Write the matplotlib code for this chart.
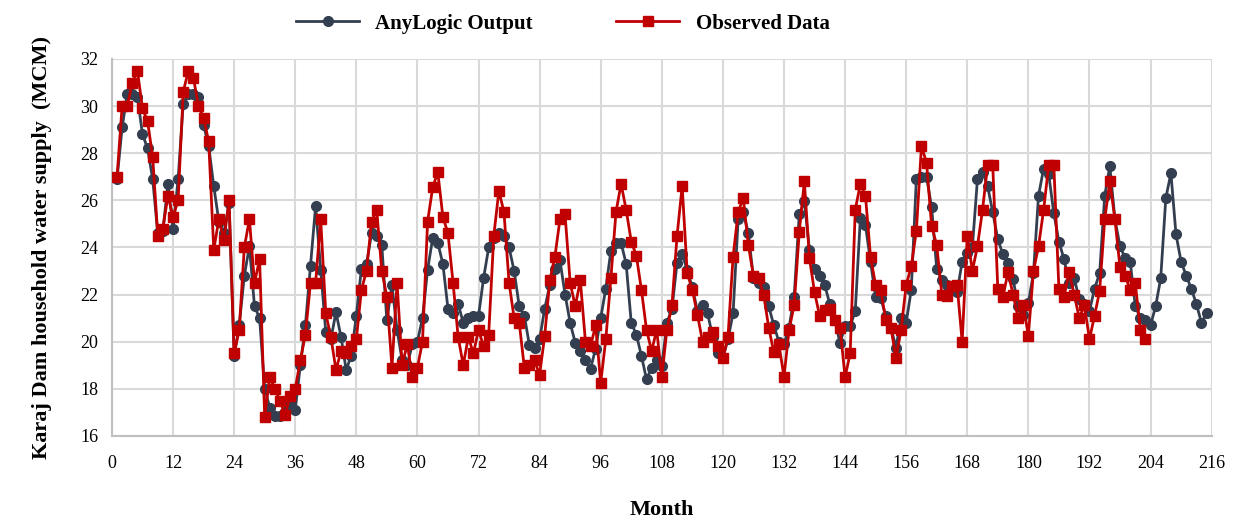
import numpy as np
import matplotlib
matplotlib.use("Agg")
import matplotlib.pyplot as plt

# ==========================================
# DATA (monthly household supply, MCM)
# ==========================================
anylogic = [
    26.9, 29.1, 30.5, 30.5, 30.4, 28.8, 28.2, 26.9, 24.6, 24.7, 26.7, 24.8,
    26.9, 30.1, 30.5, 30.5, 30.4, 29.2, 28.3, 26.6, 25.1, 24.6, 25.9, 19.4,
    20.7, 22.8, 24.05, 21.5, 21.0, 18.0, 17.2, 16.85, 16.85, 17.0, 17.4, 17.1,
    19.0, 20.7, 23.2, 25.75, 23.05, 20.4, 20.1, 21.25, 20.2, 18.8, 19.4, 21.1,
    23.1, 23.3, 24.6, 24.5, 24.1, 20.9, 22.4, 20.5, 19.2, 19.0, 19.9, 20.0,
    21.0, 23.05, 24.4, 24.2, 23.3, 21.4, 21.2, 21.6, 20.8, 21.0, 21.1, 21.1,
    22.7, 24.0, 24.4, 24.6, 24.5, 24.0, 23.0, 21.5, 21.1, 19.85, 19.75, 20.1,
    21.4, 22.4, 23.1, 23.45, 22.0, 20.8, 19.95, 19.6, 19.2, 18.85, 19.7, 21.0,
    22.25, 23.85, 24.2, 24.2, 23.3, 20.8, 20.3, 19.4, 18.4, 18.9, 19.2, 18.95,
    20.8, 21.4, 23.35, 23.7, 23.05, 22.3, 21.3, 21.55, 21.2, 20.2, 19.5, 19.3,
    20.1, 21.2, 25.2, 25.5, 24.6, 22.7, 22.5, 22.3, 21.5, 20.7, 20.0, 19.9,
    20.6, 21.9, 25.4, 25.95, 23.9, 23.1, 22.8, 22.4, 21.6, 20.9, 19.95, 20.65,
    20.65, 21.3, 25.25, 24.95, 23.4, 21.9, 21.85, 21.1, 20.6, 19.75, 21.0, 20.8,
    22.2, 26.9, 27.0, 27.0, 25.7, 23.1, 22.6, 22.4, 22.2, 22.1, 23.4, 23.75,
    24.0, 26.9, 27.2, 26.6, 25.5, 24.35, 23.7, 23.35, 22.65, 21.5, 21.15, 21.65,
    22.9, 26.2, 27.35, 27.1, 25.45, 24.25, 23.5, 22.5, 22.7, 21.8, 21.6, 21.3,
    22.25, 22.9, 26.2, 27.45, 25.2, 24.05, 23.55, 23.4, 21.5, 21.0, 20.9, 20.7,
    21.5, 22.7, 26.1, 27.15, 24.55, 23.4, 22.8, 22.25, 21.6, 20.8, 21.2,
]

observed = [
    27.0, 30.0, 30.0, 31.0, 31.5, 29.9, 29.35, 27.85, 24.5, 24.8, 26.2, 25.3,
    26.0, 30.6, 31.5, 31.2, 30.0, 29.5, 28.5, 23.9, 25.2, 24.3, 26.0, 19.5,
    20.5, 24.0, 25.2, 22.5, 23.5, 16.8, 18.5, 18.0, 17.5, 16.9, 17.7, 18.0,
    19.2, 20.3, 22.5, 22.5, 25.2, 21.2, 20.2, 18.8, 19.6, 19.5, 19.8, 20.1,
    22.2, 23.0, 25.1, 25.6, 23.0, 21.9, 18.9, 22.5, 19.0, 19.9, 18.5, 18.9,
    20.0, 25.1, 26.55, 27.2, 25.3, 24.6, 22.5, 20.2, 19.0, 20.2, 19.5, 20.5,
    19.8, 20.3, 24.5, 26.4, 25.5, 22.5, 21.0, 20.8, 18.9, 19.0, 19.2, 18.6,
    20.25, 22.6, 23.6, 25.2, 25.4, 22.5, 21.5, 22.6, 20.0, 19.8, 20.7, 18.25,
    20.1, 22.7, 25.5, 26.7, 25.6, 24.25, 23.65, 22.2, 20.5, 19.6, 20.5, 18.5,
    20.5, 21.55, 24.5, 26.6, 22.9, 22.2, 21.15, 20.0, 20.2, 20.4, 19.8, 19.3,
    20.2, 23.6, 25.5, 26.1, 24.1, 22.8, 22.7, 22.0, 20.6, 19.55, 19.9, 18.5,
    20.5, 21.55, 24.65, 26.8, 23.55, 22.1, 21.1, 21.35, 21.4, 20.9, 20.6, 18.5,
    19.5, 25.6, 26.7, 26.2, 23.6, 22.4, 22.2, 20.9, 20.6, 19.3, 20.5, 22.4,
    23.2, 24.7, 28.3, 27.6, 24.9, 24.1, 22.0, 21.95, 22.35, 22.4, 20.0, 24.5,
    23.0, 24.05, 25.6, 27.5, 27.5, 22.25, 21.9, 22.95, 22.0, 21.0, 21.55, 20.25,
    23.0, 24.05, 25.6, 27.5, 27.5, 22.25, 21.9, 22.95, 22.0, 21.0, 21.55, 20.1,
    21.1, 22.15, 25.2, 26.8, 25.2, 23.15, 22.8, 22.2, 22.5, 20.5, 20.1,
]

months_model = np.arange(1, len(anylogic) + 1)
months_obs = np.arange(1, len(observed) + 1)
x_ticks = list(range(0, 217, 12))
y_ticks = list(range(16, 33, 2))

SERIF = ["Liberation Serif", "DejaVu Serif"]
DARK = "#333f50"
RED = "#c00000"


def main():
    plt.rcParams["font.family"] = SERIF
    fig = plt.figure(figsize=(12.37, 5.22), dpi=100)
    ax = fig.add_axes([0.0905, 0.165, 0.889, 0.722])

    ax.plot(months_model, anylogic, color=DARK, lw=2, marker="o", ms=7,
            label="AnyLogic Output", zorder=3)
    ax.plot(months_obs, observed, color=RED, lw=2, marker="s", ms=7,
            label="Observed Data", zorder=4)

    ax.set_xlim(0, 216)
    ax.set_ylim(16, 32)
    ax.set_xticks(x_ticks)
    ax.set_yticks(y_ticks)
    ax.tick_params(length=0, labelsize=13)
    ax.tick_params(axis="x", pad=14)
    ax.tick_params(axis="y", pad=10)
    ax.grid(True, color="#d9d9d9", lw=1.5)
    ax.set_axisbelow(True)
    for side in ["top", "right"]:
        ax.spines[side].set_visible(False)
    for side in ["left", "bottom"]:
        ax.spines[side].set_color("#bfbfbf")
        ax.spines[side].set_linewidth(1.5)

    ax.set_xlabel("Month", fontsize=16, fontweight="bold", labelpad=20)
    ax.set_ylabel("Karaj Dam household water supply  (MCM)", fontsize=16,
                  fontweight="bold", labelpad=20)

    fig.legend(loc="upper center", bbox_to_anchor=(0.455, 1.01), ncol=2,
               frameon=False, columnspacing=4.0, handlelength=3.0,
               handletextpad=0.8,
               prop={"family": SERIF, "weight": "bold", "size": 15})

    fig.savefig("out.png", dpi=100)


if __name__ == "__main__":
    main()
